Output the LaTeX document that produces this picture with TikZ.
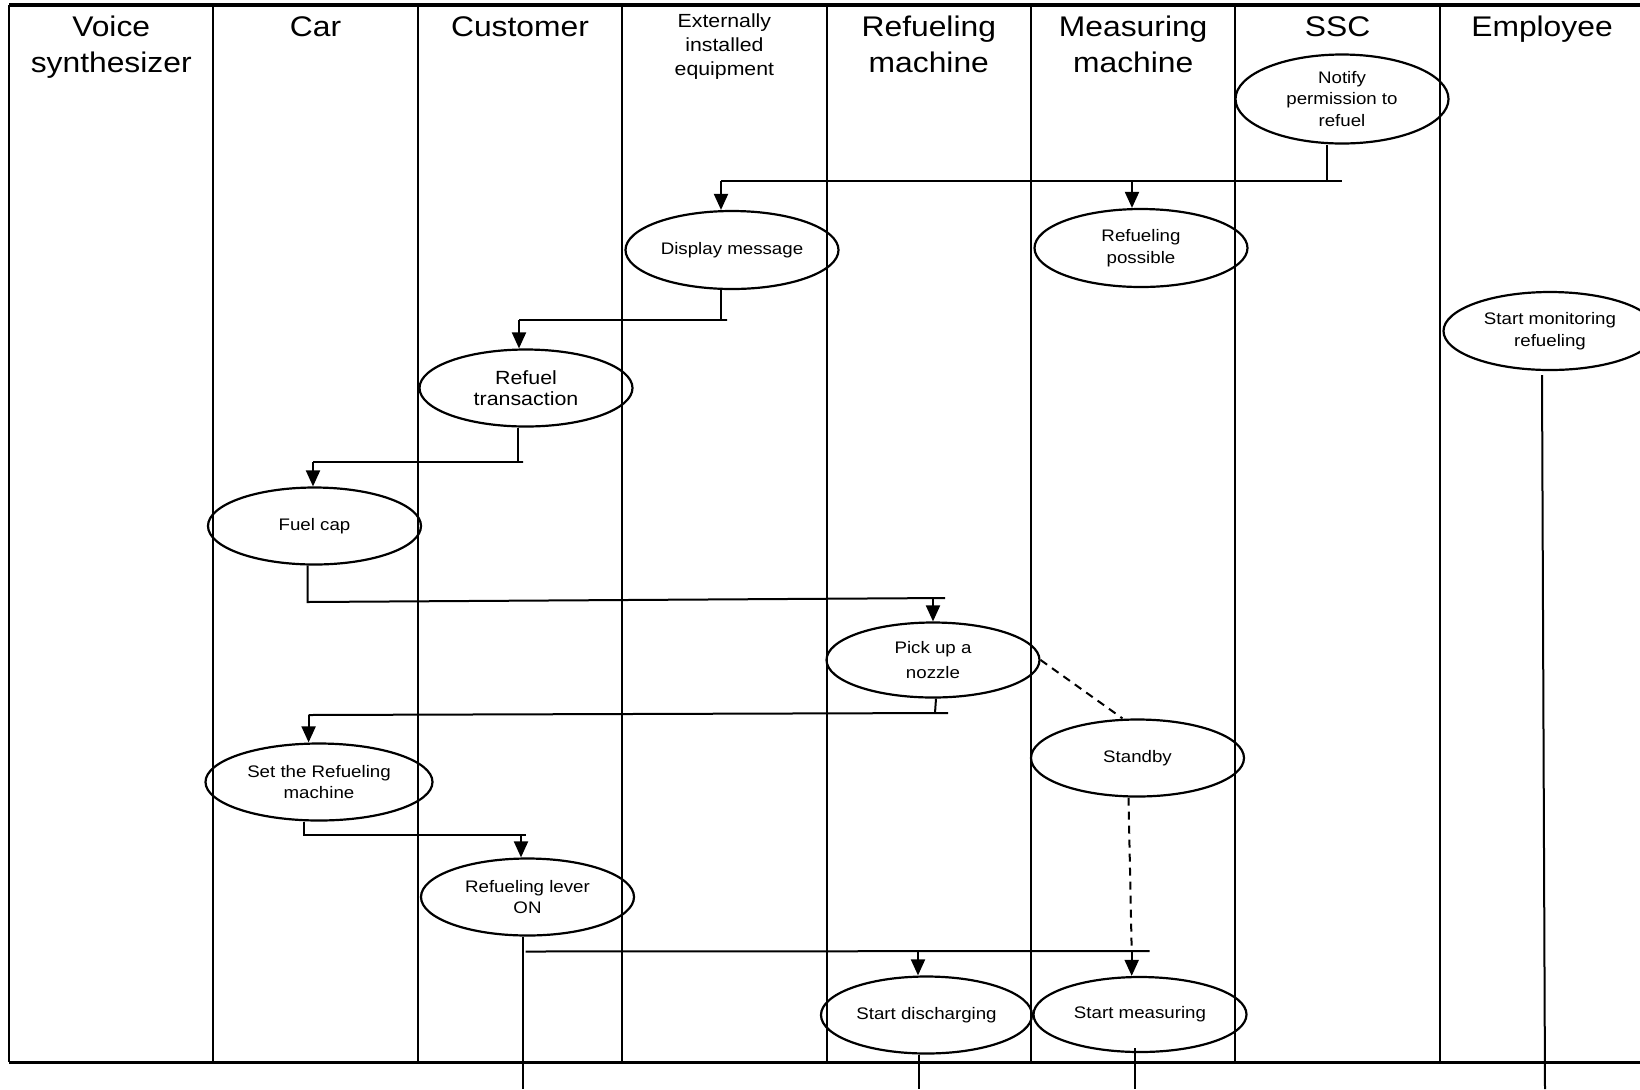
\documentclass[tikz,border=0pt]{standalone}
\usepackage{fontspec}
\setmainfont{Liberation Sans}[FakeStretch=1.12]
\usetikzlibrary{shapes.geometric, arrows.meta, calc}

\tikzset{
  lane/.style={line width=1pt},
  hd/.style={anchor=north, inner sep=0pt, align=center, font=\fontsize{14.2}{18}\selectfont},
  act/.style={ellipse, draw, line width=1.1pt, minimum width=106.5pt, minimum height=38.5pt,
    inner sep=0pt, align=center, font=\fontsize{8.35}{10.8}\selectfont},
  flow/.style={line width=1pt},
  arr/.style={flow, -{Triangle[length=8pt,width=7pt]}},
  dsh/.style={flow, dash pattern=on 4pt off 3pt}
}

\begin{document}
\begin{tikzpicture}[x=0.5pt, y=-0.5pt]
    \useasboundingbox (0,0) rectangle (1640,1089);
    \coordinate (bot) at (0,1089);

    \foreach \i in {1,...,7}
        \draw[lane] (9+204.4*\i,5) -- (9+204.4*\i,1062);
    \draw[line width=1.25pt] (9,5) -- (9,1062);
    \draw[line width=1.75pt] (9,5) -- (1640,5);
    \draw[line width=1.5pt] (9,1062) -- (1640,1062);

    \foreach \i/\txt in {0/{Voice\\synthesizer}, 1/Car, 2/Customer, 4/{Refueling\\machine},
                         5/{Measuring\\machine}, 6/SSC, 7/Employee}
        \node[hd] (h\i) at (111.2+204.4*\i,16) {\txt};
    \node[hd, font=\fontsize{9.5}{12}\selectfont] (h3) at (724.4,13) {Externally\\installed\\equipment};

    \node[act, minimum height=44.5pt] (notify) at (1342,99) {Notify\\permission to\\refuel};
    \node[act, minimum height=39pt] (disp) at (732,250) {Display message};
    \node[act, minimum height=39pt] (poss) at (1141,248) {Refueling\\possible};
    \node[act, minimum height=39pt] (monit) at (1550,331) {Start monitoring\\refueling};
    \node[act, font=\fontsize{9.55}{10.4}\selectfont] (trans) at (526,388) {Refuel\\transaction};
    \node[act] (cap) at (314.5,526) {Fuel cap};
    \node[act, minimum height=37.5pt, font=\fontsize{8.35}{12.75}\selectfont] (nozzle) at (933,660) {Pick up a\\nozzle};
    \node[act] (standby) at (1137.5,758) {Standby};
    \node[act, minimum width=113.5pt] (setm) at (319,782) {Set the Refueling\\machine};
    \node[act] (lever) at (527.5,897) {Refueling lever\\ON};
    \node[act, minimum width=105.5pt] (disch) at (926.5,1015) {Start discharging};
    \node[act, minimum height=37.5pt] (meas) at (1140,1014.5) {Start measuring};

    \coordinate (f1) at (721,181);
    \draw[flow] ([xshift=-7.5pt]notify.south) -- ([xshift=-7.5pt]notify.south |- f1);
    \draw[flow] (f1) -- (notify.south |- f1);
    \draw[arr] (f1) -- (f1 |- disp.north);
    \draw[arr] ([xshift=-4.5pt]poss.north |- f1) -- ([xshift=-4.5pt]poss.north);

    \coordinate (f2) at (519,320);
    \draw[flow] ([xshift=-5.5pt]disp.south) -- ([xshift=-5.5pt]disp.south |- f2) -- ++(6,0) -- (f2);
    \draw[arr] (f2) -- (f2 |- trans.north);

    \coordinate (f3) at (313,462);
    \draw[flow] ([xshift=-4pt]trans.south) -- ([xshift=-4pt]trans.south |- f3) -- ++(5,0) -- (f3);
    \draw[arr] (f3) -- (f3 |- cap.north);

    \coordinate (f4) at (307.5,602);
    \coordinate (g4) at (945,598);
    \draw[flow] ([xshift=-3.5pt]cap.south) -- (f4) -- (g4);
    \draw[arr] (nozzle.north |- g4) -- (nozzle.north);

    \coordinate (f5) at (308.6,715);
    \coordinate (g5) at (948,713);
    \draw[flow] ([xshift=1.5pt]nozzle.south) -- ([xshift=1pt]nozzle.south |- g5);
    \draw[flow] (f5) -- (g5);
    \draw[arr] (f5) -- (f5 |- setm.north);

    \coordinate (f6) at (304,835);
    \coordinate (g6) at (525.6,835);
    \draw[flow] ([xshift=-7.5pt]setm.south) -- (f6) -- (g6);
    \draw[arr] ([xshift=-3.25pt]lever.north |- f6) -- ([xshift=-3.25pt]lever.north);

    \coordinate (f7) at (525.6,951.5);
    \coordinate (g7) at (1149.5,951);
    \draw[flow] ([xshift=-2.25pt]lever.south) -- ([xshift=-2.25pt]lever.south |- bot);
    \draw[flow] (f7) -- (g7);
    \draw[arr] ([xshift=-4.25pt]disch.north |- g7) -- ([xshift=-4.25pt]disch.north);
    \draw[arr] ([xshift=-4.15pt]meas.north |- g7) -- ([xshift=-4.15pt]meas.north);

    \draw[dsh] (nozzle.east) -- ([xshift=-7.5pt]standby.north);
    \draw[dsh] ([xshift=-4.5pt]standby.south) -- ([xshift=-4.15pt]meas.north |- g7);

    \draw[flow] ([xshift=-3.75pt]disch.south) -- ([xshift=-3.75pt]disch.south |- bot);
    \draw[flow] ([xshift=-2.5pt,yshift=2.5pt]meas.south) -- ([xshift=-2.5pt]meas.south |- bot);
    \draw[flow] ([xshift=-4pt,yshift=-2pt]monit.south) -- ([xshift=-2.5pt]monit.south |- bot);
\end{tikzpicture}
\end{document}
